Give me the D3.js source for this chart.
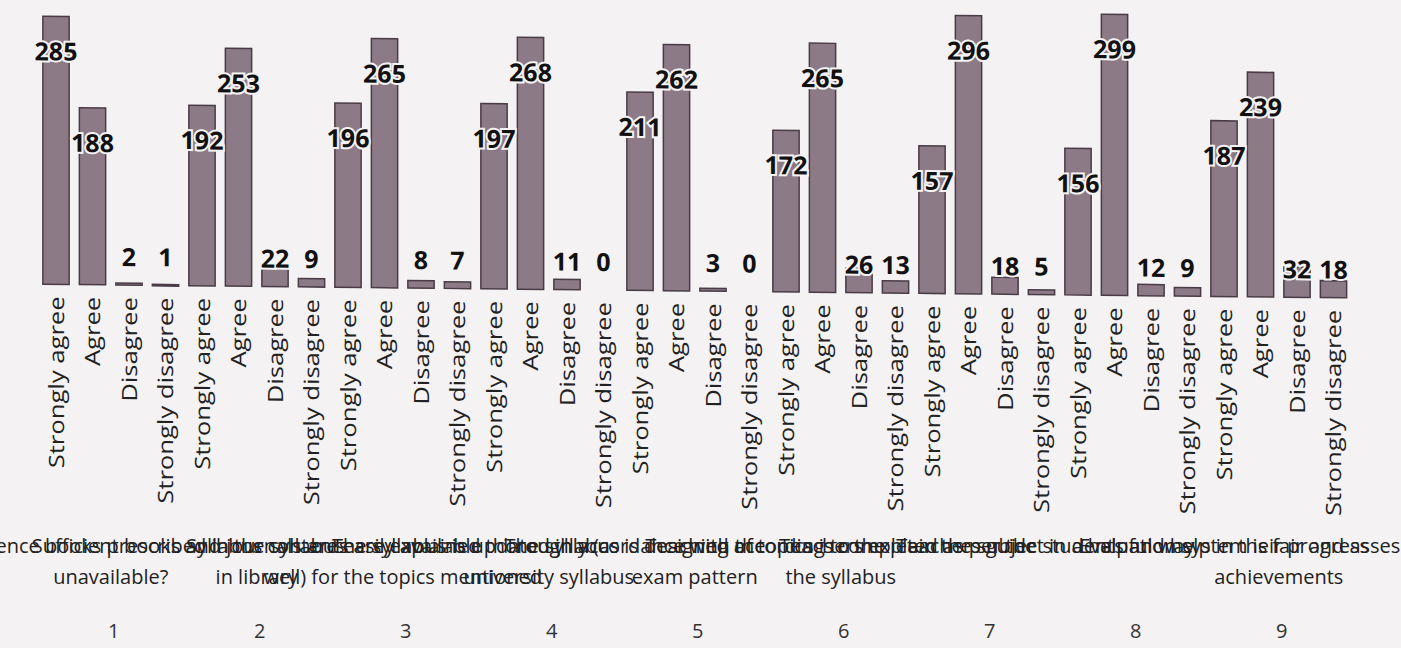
<!DOCTYPE html>
<html>
<head>
<meta charset="utf-8">
<script src="https://cdn.jsdelivr.net/npm/d3@7"></script>
<style>
  body { margin: 0; background: #f4f2f3; }
  svg { display: block; font-family: "Open Sans", sans-serif; }
</style>
</head>
<body>
<div id="vis"></div>
<script>
// Survey responses per question
const groups = ["1", "2", "3", "4", "5", "6", "7", "8", "9"];
const responses = ["Strongly agree", "Agree", "Disagree", "Strongly disagree"];

const stronglyAgree    = [285, 192, 196, 197, 211, 172, 157, 156, 187];
const agree            = [188, 253, 265, 268, 262, 265, 296, 299, 239];
const disagree         = [2, 22, 8, 11, 3, 26, 18, 12, 32];
const stronglyDisagree = [1, 9, 7, 0, 0, 13, 5, 9, 18];

// question text under each group (two lines, they overlap in the original)
const questionLine1 = [
  "Are the reference books prescribed in the syllabus",
  "Sufficient books and journals are easily available",
  "Syllabus contents are explained thoroughly (as",
  "The syllabus is updated in accordance with the",
  "The syllabus is designed according to the",
  "Teaching of topics is completed as per the",
  "Teachers explain the subject in a helpful way",
  "Teachers guide students and help in their progress",
  "Evaluation system is fair and assesses your"
];
const questionLine2 = [
  "unavailable?", "in library", "well) for the topics mentioned",
  "university syllabus", "exam pattern", "the syllabus",
  "", "", "achievements"
];

const seriesValues = [stronglyAgree, agree, disagree, stronglyDisagree];

const data = [];
groups.forEach((g, gi) => {
  responses.forEach((r, ri) => {
    data.push({ key: g + "-" + ri, group: g, response: r, value: seriesValues[ri][gi] });
  });
});

const width = 1401;
const height = 648;
const baseY = 291;

const svg = d3.select("#vis")
  .append("svg")
  .attr("width", width)
  .attr("height", height);

svg.append("rect")
  .attr("width", width).attr("height", height)
  .attr("fill", "#f4f2f3");

// the scanned page is a bit sheared: bars sit lower on the right
const skew = 0.6;
const chart = svg.append("g")
  .attr("transform", `translate(0,${-695 * Math.tan(skew * Math.PI / 180)}) skewY(${skew})`);
const bottom = svg.append("g");

const step = 36.5;
const xScale = d3.scaleBand()
  .domain(data.map(d => d.key))
  .range([56 - step / 2, 56 + step * 35 + step / 2])
  .paddingInner(0.28)
  .paddingOuter(0.14);

const yScale = d3.scaleLinear()
  .domain([0, 300])
  .range([baseY, 9]);

// Bars
chart.selectAll("rect.bar")
  .data(data.filter(d => d.value > 0))
  .enter()
  .append("rect")
  .attr("class", "bar")
  .attr("x", d => xScale(d.key))
  .attr("y", d => yScale(d.value))
  .attr("width", xScale.bandwidth())
  .attr("height", d => Math.max(1.5, baseY - yScale(d.value)))
  .attr("fill", "#8c7a86")
  .attr("stroke", "#4a3c46")
  .attr("stroke-width", 1.5);

// Value labels
chart.selectAll("text.val")
  .data(data)
  .enter()
  .append("text")
  .attr("class", "val")
  .attr("x", d => xScale(d.key) + xScale.bandwidth() / 2)
  .attr("y", d => (baseY - yScale(d.value) > 60) ? yScale(d.value) + 44 : baseY - 19)
  .attr("text-anchor", "middle")
  .attr("font-size", "25px")
  .attr("font-weight", "bold")
  .attr("fill", "#111")
  .attr("stroke", "#f4f2f3")
  .attr("stroke-width", 4)
  .attr("paint-order", "stroke")
  .text(d => d.value);

// Response labels (rotated)
chart.selectAll("text.resp")
  .data(data)
  .enter()
  .append("text")
  .attr("class", "resp")
  .attr("transform", d => `translate(${xScale(d.key) + xScale.bandwidth() / 2},${baseY + 12}) rotate(-90) scale(1.22,1)`)
  .attr("dy", "0.36em")
  .attr("text-anchor", "end")
  .attr("font-size", "21px")
  .attr("fill", "#222")
  .text(d => d.response);

// Group labels
const groupCenter = g => {
  const first = xScale(g + "-0");
  const last = xScale(g + "-3") + xScale.bandwidth();
  return (first + last) / 2;
};

bottom.selectAll("text.q1")
  .data(groups)
  .enter()
  .append("text")
  .attr("class", "q1")
  .attr("x", d => groupCenter(d))
  .attr("y", 553)
  .attr("text-anchor", "middle")
  .attr("font-size", "20px")
  .attr("fill", "#222")
  .text((d, i) => questionLine1[i]);

bottom.selectAll("text.q2")
  .data(groups)
  .enter()
  .append("text")
  .attr("class", "q2")
  .attr("x", d => groupCenter(d))
  .attr("y", 584)
  .attr("text-anchor", "middle")
  .attr("font-size", "20px")
  .attr("fill", "#222")
  .text((d, i) => questionLine2[i]);

bottom.selectAll("text.gnum")
  .data(groups)
  .enter()
  .append("text")
  .attr("class", "gnum")
  .attr("x", d => groupCenter(d) + 3)
  .attr("y", 638)
  .attr("text-anchor", "middle")
  .attr("font-size", "20px")
  .attr("fill", "#333")
  .text(d => d);
</script>
</body>
</html>
